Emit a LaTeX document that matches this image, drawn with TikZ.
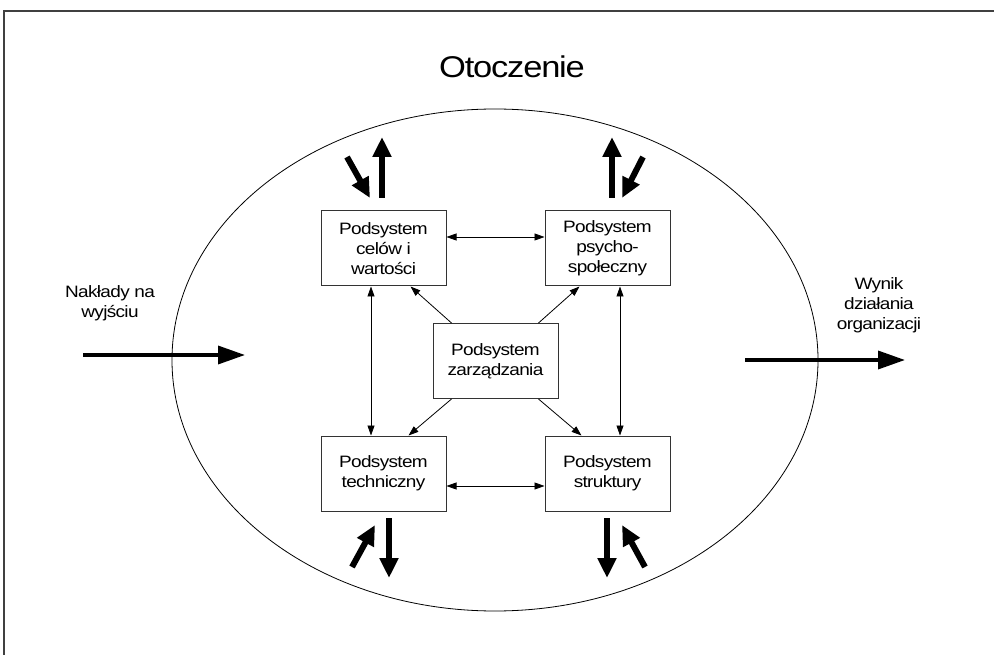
\documentclass[tikz,border=0pt]{standalone}
\usepackage{fontspec}
\setmainfont{Liberation Sans}
\newfontfamily\labelfont[FakeStretch=1.15,LetterSpace=-4]{Liberation Sans}
\usetikzlibrary{arrows.meta,calc}
\begin{document}
\begin{tikzpicture}[x=1pt,y=-1pt,
  sysbox/.style={draw=black!80,line width=1pt,minimum width=125pt,minimum height=75pt,
    align=center,inner sep=0pt,font=\labelfont\fontsize{16.5}{20}\selectfont},
  lbl/.style={align=center,inner sep=0pt,font=\labelfont\fontsize{16.5}{20}\selectfont},
  link/.style={line width=0.8pt,{Triangle[length=10pt,width=7pt]}-{Triangle[length=10pt,width=7pt]}},
  feed/.style={line width=0.8pt,-{Triangle[length=10pt,width=7pt]}},
  flow/.style={line width=6pt,-{Triangle[length=20pt,width=18pt]}},
  io/.style={line width=3.5pt,-{Triangle[length=27pt,width=18pt]}}]
\useasboundingbox (0,0) rectangle (994,655);
% frame
\draw[line width=1.5pt,black!75] (4,655) -- (4,11) -- (994,11);
% environment
\draw[line width=0.8pt] (495,360) ellipse [x radius=323, y radius=251];
\node[font=\labelfont\fontsize{30}{36}\selectfont] (env) at (512,67) {Otoczenie};

% subsystems
\node[sysbox] (goals) at (383.5,248.5) {Podsystem\\celów i\\wartości};
\node[sysbox] (psy)   at (607.5,248.5) {Podsystem\\psycho-\\społeczny};
\node[sysbox] (mgmt)  at (495.5,361)   {Podsystem\\zarządzania};
\node[sysbox] (tech)  at (383.5,473.5) {Podsystem\\techniczny};
\node[sysbox] (str)   at (607.5,473.5) {Podsystem\\struktury};

% links between subsystems
\draw[link] ($(goals.east)+(0,-11.5)$) -- ($(psy.west)+(0,-11.5)$);
\draw[link] ($(tech.east)+(0,12.5)$) -- ($(str.west)+(0,12.5)$);
\draw[link] ($(goals.south)+(-12.5,0)$) -- ($(tech.north)+(-12.5,0)$);
\draw[link] ($(psy.south)+(12.5,0)$) -- ($(str.north)+(12.5,0)$);

% management influence
\draw[feed] ($(mgmt.north west)+(19,0)$) -- ($(goals.south east)+(-36,0)$);
\draw[feed] ($(mgmt.north east)+(-20,0)$) -- ($(psy.south west)+(35,0)$);
\draw[feed] ($(mgmt.south west)+(19,0)$) -- ($(tech.north east)+(-38,0)$);
\draw[feed] ($(mgmt.south east)+(-20,0)$) -- ($(str.north west)+(37,0)$);

% exchange with the environment
\coordinate (g1) at (347,157); \coordinate (g2) at (370,198);
\coordinate (g3) at (382,198); \coordinate (g4) at (382,137);
\coordinate (p1) at (643,157); \coordinate (p2) at (622,198);
\coordinate (p3) at (612,198); \coordinate (p4) at (612,137);
\coordinate (t1) at (352,567); \coordinate (t2) at (375,525);
\coordinate (t3) at (389,518); \coordinate (t4) at (389,578);
\coordinate (s1) at (645,567); \coordinate (s2) at (622,525);
\coordinate (s3) at (607,518); \coordinate (s4) at (607,578);
\draw[flow] (g1) -- (g2);
\draw[flow] (g3) -- (g4);
\draw[flow] (p1) -- (p2);
\draw[flow] (p3) -- (p4);
\draw[flow] (t1) -- (t2);
\draw[flow] (t3) -- (t4);
\draw[flow] (s1) -- (s2);
\draw[flow] (s3) -- (s4);

% inputs and outputs
\node[lbl] (inlbl) at (110,303) {Nakłady na\\wyjściu};
\node[lbl] (outlbl) at (879,305) {Wynik\\działania\\organizacji};
\coordinate (in1) at (83,355); \coordinate (in2) at (245,355);
\coordinate (out1) at (745,360); \coordinate (out2) at (905,360);
\draw[io] (in1) -- (in2);
\draw[io] (out1) -- (out2);
\end{tikzpicture}
\end{document}
